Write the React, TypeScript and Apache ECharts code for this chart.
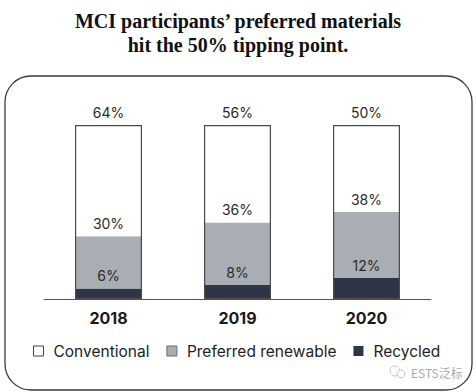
import React, { useEffect, useRef } from "react";
import * as echarts from "echarts";

const years = ["2018", "2019", "2020"];
const recycled = [6, 8, 12];
const renewable = [30, 36, 38];
const conventional = [64, 56, 50];
const totals = years.map((_, i) => recycled[i] + renewable[i] + conventional[i]);
const titleLines = ["MCI participants’ preferred materials", "hit the 50% tipping point."];

const SANS = "Inter, 'Liberation Sans', sans-serif";

export default function App() {
  const ref = useRef<HTMLDivElement>(null);
  useEffect(() => {
    const chart = echarts.init(ref.current!, null, { renderer: "svg" });
    const label = (arr: number[]) => ({
      show: true,
      position: "top",
      distance: 6,
      color: "#2a2a2a",
      fontSize: 14,
      fontFamily: SANS,
      formatter: (p: any) => `${arr[p.dataIndex]}%`,
    });
    const titleStyle = {
      fontFamily: "'Liberation Serif', serif",
      fontWeight: "bold",
      fontSize: 20,
      fill: "#111",
      align: "center",
      verticalAlign: "middle",
    };
    chart.setOption({
      animation: false,
      backgroundColor: "#ffffff",
      graphic: [
        { type: "text", x: 238, y: 21, silent: true, style: { ...titleStyle, text: titleLines[0] } },
        { type: "text", x: 238, y: 45, silent: true, style: { ...titleStyle, text: titleLines[1] } },
        {
          type: "rect",
          shape: { x: 5, y: 76, width: 467, height: 314, r: 26 },
          style: { fill: "none", stroke: "#3a3a3a", lineWidth: 1.3 },
          silent: true,
        },
        {
          type: "circle",
          shape: { cx: 395, cy: 371, r: 5 },
          style: { fill: "none", stroke: "#c4c4c4", lineWidth: 1 },
          silent: true,
        },
        {
          type: "circle",
          shape: { cx: 401, cy: 374, r: 4 },
          style: { fill: "#fff", stroke: "#c4c4c4", lineWidth: 1 },
          silent: true,
        },
        {
          type: "text",
          x: 411,
          y: 372,
          silent: true,
          style: {
            text: "ESTS泛标",
            fill: "#aaaaaa",
            fontSize: 12,
            fontFamily: "'Noto Sans CJK SC', sans-serif",
            verticalAlign: "middle",
          },
        },
      ],
      legend: {
        left: 28,
        top: 338,
        itemWidth: 10,
        itemHeight: 10,
        itemGap: 17,
        icon: "rect",
        data: [
          { name: "Conventional", itemStyle: { color: "#fff", borderColor: "#444", borderWidth: 1 } },
          { name: "Preferred renewable", itemStyle: { color: "#a9adb4", borderColor: "#6a6e76", borderWidth: 1 } },
          { name: "Recycled" },
        ],
        textStyle: { fontFamily: SANS, fontSize: 15.5, color: "#222", padding: [0, 0, 0, 5] },
      },
      grid: { left: 44, right: 45, top: 125, bottom: 93 },
      xAxis: {
        type: "category",
        data: years,
        axisLine: { lineStyle: { color: "#555", width: 1 } },
        axisTick: { show: false },
        axisLabel: {
          fontFamily: SANS,
          fontWeight: "bold",
          fontSize: 16,
          color: "#1a1a1a",
          margin: 11,
        },
      },
      yAxis: { type: "value", min: 0, max: 100, show: false, splitLine: { show: false } },
      series: [
        {
          name: "Recycled",
          type: "bar",
          stack: "total",
          barWidth: 67,
          data: recycled,
          itemStyle: { color: "#2e3548" },
          label: label(recycled),
        },
        {
          name: "Preferred renewable",
          type: "bar",
          stack: "total",
          barWidth: 67,
          data: renewable,
          itemStyle: { color: "#a9adb4" },
          label: label(renewable),
        },
        {
          name: "Conventional",
          type: "bar",
          stack: "total",
          barWidth: 67,
          data: conventional,
          itemStyle: { color: "#ffffff" },
          label: label(conventional),
        },
        {
          name: "outline",
          type: "bar",
          barWidth: 67,
          barGap: "-100%",
          data: totals,
          z: 3,
          silent: true,
          itemStyle: { color: "transparent", borderColor: "#4a4a4a", borderWidth: 1.2 },
          label: { show: false },
        },
      ],
    });
    return () => chart.dispose();
  }, []);
  return <div ref={ref} style={{ width: 476, height: 392, position: "absolute", left: 0, top: 0 }} />;
}
